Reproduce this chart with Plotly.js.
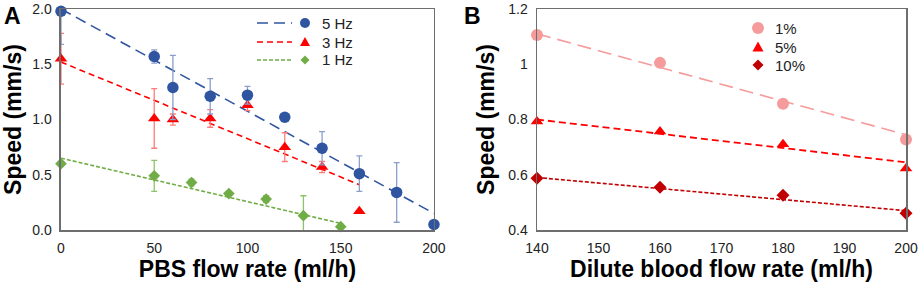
<!DOCTYPE html>
<html><head><meta charset="utf-8">
<script src="https://cdn.plot.ly/plotly-3.0.1.min.js"></script>
<style>html,body{margin:0;padding:0;background:#fff;}#chart{width:920px;height:285px;}</style>
</head><body><div id="chart"></div>
<script>
// Panel A: PBS flow rate vs speed
const hz5X = [0, 50, 60, 80, 100, 120, 140, 160, 180, 200];
const hz5Y = [1.98, 1.57, 1.29, 1.21, 1.22, 1.02, 0.74, 0.51, 0.34, 0.05];
const hz5ErrPlus = [0, 0.06, 0.29, 0.16, 0.08, 0, 0.15, 0.16, 0.27, 0.03];
const hz5ErrMinus = [0.30, 0.06, 0.29, 0.16, 0.08, 0, 0.15, 0.16, 0.27, 0.03];
const hz3X = [0, 50, 60, 80, 100, 120, 140, 160];
const hz3Y = [1.55, 1.01, 1.00, 1.01, 1.13, 0.75, 0.57, 0.17];
const hz3Err = [0.23, 0.27, 0.05, 0.08, 0.05, 0.13, 0.05, 0];
const hz1X = [0, 50, 70, 90, 110, 130, 150];
const hz1Y = [0.60, 0.49, 0.43, 0.33, 0.28, 0.13, 0.03];
const hz1Err = [0, 0.14, 0.03, 0.01, 0.03, 0.18, 0.02];
// Trendlines A (endpoints of the fitted lines)
const trend5X = [0, 200], trend5Y = [2.00, 0.15];
const trend3X = [0, 160], trend3Y = [1.52, 0.41];
const trend1X = [0, 150], trend1Y = [0.65, 0.06];

// Panel B: dilute blood flow rate vs speed
const flowB = [140, 160, 180, 200];
const p1Y = [1.106, 1.005, 0.857, 0.728];
const p5Y = [0.793, 0.757, 0.710, 0.623];
const p10Y = [0.587, 0.555, 0.526, 0.461];
const trendBX = [140, 200];
const trendP1Y = [1.11, 0.745];
const trendP5Y = [0.80, 0.645];
const trendP10Y = [0.59, 0.47];

const namesA = ['5 Hz', '3 Hz', '1 Hz'];
const namesB = ['1%', '5%', '10%'];

const blue = '#2F55A0', red = '#FF0000', green = '#70AD47';
const pink = '#F59B9B', dred = '#C00000';
const FONT = 'Liberation Sans, Arial, sans-serif';

function line(x, y, color, dash, xa, ya, w) {
  return {x: x, y: y, mode: 'lines', type: 'scatter', xaxis: xa, yaxis: ya,
    line: {color: color, dash: dash, width: w || 1.6}, showlegend: false, hoverinfo: 'skip'};
}
function pts(x, y, color, symbol, size, xa, ya, err, errColor) {
  const t = {x: x, y: y, mode: 'markers', type: 'scatter', xaxis: xa, yaxis: ya,
    marker: {color: color, symbol: symbol, size: size}, showlegend: false, cliponaxis: false};
  if (err) t.error_y = Object.assign({type: 'data', color: errColor, thickness: 1.3, width: 3}, err);
  return t;
}

const data = [
  line(trend5X, trend5Y, blue, '11px,6px', 'x', 'y'),
  line(trend3X, trend3Y, red, '6px,4px', 'x', 'y'),
  line(trend1X, trend1Y, green, '4px,2px', 'x', 'y'),
  pts(hz1X, hz1Y, green, 'diamond', 9, 'x', 'y', {array: hz1Err}, '#8DC26A'),
  pts(hz3X, hz3Y, red, 'triangle-up', 11, 'x', 'y', {array: hz3Err}, '#FF7C7C'),
  pts(hz5X, hz5Y, blue, 'circle', 11.5, 'x', 'y', {symmetric: false, array: hz5ErrPlus, arrayminus: hz5ErrMinus}, '#8B9FCB'),
  line(trendBX, trendP1Y, pink, '14px,7px', 'x2', 'y2'),
  line(trendBX, trendP5Y, red, '7px,4px', 'x2', 'y2', 1.8),
  line(trendBX, trendP10Y, dred, '4px,2px', 'x2', 'y2'),
  pts(flowB, p1Y, pink, 'circle', 12, 'x2', 'y2'),
  pts(flowB, p5Y, red, 'triangle-up', 11, 'x2', 'y2'),
  pts(flowB, p10Y, dred, 'diamond', 10, 'x2', 'y2')
];

// Plot area: top at 9px, bottom at 230px (223px -> 221px tall)
const PT = 9, PB = 230;
const py = p => (PB - p) / (PB - PT);

// Custom legends (layout positions)
const legA = {lineX0: 257 / 920, lineX1: 292 / 920, markX: 305 / 920, textX: 320 / 920, rows: [py(23), py(42), py(60)],
  colors: [blue, red, green], dashes: ['11px,6px', '6px,4px', '4px,2px'], kinds: ['circle', 'triangle', 'diamond']};
const legB = {markX: 758 / 920, textX: 773 / 920, rows: [py(28), py(47), py(65)],
  colors: [pink, red, dred], kinds: ['circle', 'triangle', 'diamond']};

function markerShape(kind, color, xp, yp, r) {
  const base = {xref: 'paper', yref: 'paper', xsizemode: 'pixel', ysizemode: 'pixel', xanchor: xp, yanchor: yp,
    fillcolor: color, line: {width: 0}};
  if (kind === 'circle') return Object.assign(base, {type: 'circle', x0: -r, x1: r, y0: -r, y1: r});
  if (kind === 'triangle') return Object.assign(base, {type: 'path', path: `M${-r},${-r*0.8} L${r},${-r*0.8} L0,${r*1.0} Z`});
  return Object.assign(base, {type: 'path', path: `M0,${r} L${r},0 L0,${-r} L${-r},0 Z`});
}

const shapes = [], annotations = [];
namesA.forEach((n, i) => {
  const y = legA.rows[i];
  shapes.push({type: 'line', xref: 'paper', yref: 'paper', x0: legA.lineX0, x1: legA.lineX1, y0: y, y1: y,
    line: {color: legA.colors[i], width: 1.6, dash: legA.dashes[i]}});
  shapes.push(markerShape(legA.kinds[i], legA.colors[i], legA.markX, y, legA.kinds[i] === 'diamond' ? 4.5 : 5));
  annotations.push({text: n, xref: 'paper', yref: 'paper', x: legA.textX, y: y, xanchor: 'left', yanchor: 'middle',
    showarrow: false, font: {family: FONT, size: 15, color: '#222'}});
});
namesB.forEach((n, i) => {
  const y = legB.rows[i];
  shapes.push(markerShape(legB.kinds[i], legB.colors[i], legB.markX, y, legB.kinds[i] === 'circle' ? 6 : 5.5));
  annotations.push({text: n, xref: 'paper', yref: 'paper', x: legB.textX, y: y, xanchor: 'left', yanchor: 'middle',
    showarrow: false, font: {family: FONT, size: 15, color: '#222'}});
});
annotations.push({text: '<b>A</b>', xref: 'paper', yref: 'paper', x: 0.002, y: py(1), xanchor: 'left', yanchor: 'top',
  showarrow: false, font: {family: FONT, size: 23, color: '#000'}});
annotations.push({text: '<b>B</b>', xref: 'paper', yref: 'paper', x: 0.502, y: py(1), xanchor: 'left', yanchor: 'top',
  showarrow: false, font: {family: FONT, size: 23, color: '#000'}});

const tickFont = {family: FONT, size: 14, color: '#222'};
const titleFont = {family: FONT, size: 23, color: '#000'};
const axisCommon = {showline: true, linecolor: '#6e6e6e', linewidth: 1.5, mirror: true, showgrid: false,
  zeroline: false, ticks: 'outside', ticklen: 5, tickcolor: 'rgba(0,0,0,0)', tickfont: tickFont, ticklabeloverflow: 'allow'};

const layout = {
  width: 920, height: 285,
  margin: {l: 0, r: 0, t: PT, b: 285 - PB},
  paper_bgcolor: '#fff', plot_bgcolor: '#fff',
  font: {family: FONT},
  showlegend: false,
  xaxis: Object.assign({}, axisCommon, {domain: [0.0663, 0.4717], range: [0, 200], tickvals: [0, 50, 100, 150, 200],
    title: {text: '<b>PBS flow rate (ml/h)</b>', font: titleFont, standoff: 5}, anchor: 'y'}),
  yaxis: Object.assign({}, axisCommon, {domain: [0, 1], range: [0, 2.0], tickvals: [0, 0.5, 1, 1.5, 2], tickformat: '.1f',
    title: {text: '<b>Speed (mm/s)</b>', font: titleFont, standoff: 7}, anchor: 'x'}),
  xaxis2: Object.assign({}, axisCommon, {domain: [0.5837, 0.9848], range: [140, 200], tickvals: [140, 150, 160, 170, 180, 190, 200],
    title: {text: '<b>Dilute blood flow rate (ml/h)</b>', font: titleFont, standoff: 5}, anchor: 'y2'}),
  yaxis2: Object.assign({}, axisCommon, {domain: [0, 1], range: [0.4, 1.2], tickvals: [0.4, 0.6, 0.8, 1, 1.2],
    title: {text: '<b>Speed (mm/s)</b>', font: titleFont, standoff: 7}, anchor: 'x2'}),
  shapes: shapes,
  annotations: annotations
};

Plotly.newPlot('chart', data, layout, {displayModeBar: false, staticPlot: true});
</script>
</body></html>
